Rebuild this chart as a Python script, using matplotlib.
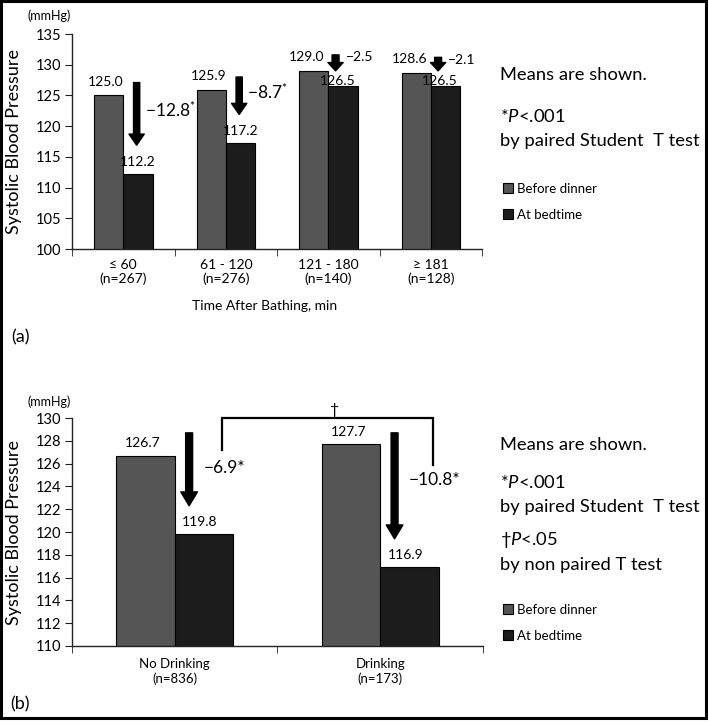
import matplotlib
matplotlib.use('Agg')
import matplotlib.pyplot as plt
import numpy as np
from matplotlib.patches import Rectangle

plt.rcParams['font.family'] = ['Lato', 'DejaVu Sans']
plt.rcParams['mathtext.fontset'] = 'custom'
plt.rcParams['mathtext.rm'] = 'Lato'
plt.rcParams['mathtext.it'] = 'Lato:italic'

# panel (a): time after bathing
groups_a = ['\u2264 60\n(n=267)', '61 - 120\n(n=276)', '121 - 180\n(n=140)', '\u2265 181\n(n=128)']
before_a = [125.0, 125.9, 129.0, 128.6]
bedtime_a = [112.2, 117.2, 126.5, 126.5]
signif_a = [True, True, False, False]

# panel (b): drinking
groups_b = ['No Drinking\n(n=836)', 'Drinking\n(n=173)']
before_b = [126.7, 127.7]
bedtime_b = [119.8, 116.9]
signif_b = [True, True]

c_before = '#555555'
c_bed = '#1c1c1c'
bw = 0.285

fig = plt.figure(figsize=(7.09, 7.22), dpi=100)
ax1 = fig.add_axes([0.1016, 0.6551, 0.5785, 0.2978])
ax2 = fig.add_axes([0.1016, 0.1053, 0.5795, 0.3157])


def style_axis(ax, labels, ymin, ymax, step, pad):
    n = len(labels)
    ax.set_xlim(-0.5, n - 0.5)
    ax.set_ylim(ymin, ymax)
    ax.set_yticks(np.arange(ymin, ymax + step / 2, step))
    for s in ['top', 'right']:
        ax.spines[s].set_visible(False)
    for s in ['left', 'bottom']:
        ax.spines[s].set_linewidth(1.0)
        ax.spines[s].set_color('#222222')
    ax.set_xticks(range(n))
    ax.set_xticklabels(labels, fontsize=10, linespacing=1.2)
    ax.set_xticks(np.arange(-0.5, n, 1), minor=True)
    ax.tick_params(axis='x', which='major', length=0, pad=pad)
    ax.tick_params(axis='x', which='minor', length=5, direction='out', color='#222222')
    ax.tick_params(axis='y', length=5, labelsize=10.5, color='#222222', pad=3)
    ax.set_ylabel('Systolic Blood Pressure', fontsize=13)
    ax.yaxis.set_label_coords(-0.122, 0.5)


def draw_arrow(ax, x, y0, y1, w, hw, hl):
    ax.annotate('', xy=(x, y1), xytext=(x, y0),
                arrowprops=dict(facecolor='black', edgecolor='black',
                                width=w, headwidth=hw, headlength=hl, shrink=0))


# ---------- (a) ----------
xa = np.arange(len(groups_a))
ax1.bar(xa - bw / 2, before_a, bw, color=c_before, edgecolor='black', lw=0.8,
        label='Before dinner')
ax1.bar(xa + bw / 2, bedtime_a, bw, color=c_bed, edgecolor='black', lw=0.8,
        label='At bedtime')
style_axis(ax1, groups_a, 100, 135, 5, 7)
ax1.set_xlabel('Time After Bathing, min', fontsize=10)
ax1.xaxis.set_label_coords(0.47, -0.235)

for i in range(len(groups_a)):
    big = signif_a[i]
    ax1.annotate('%.1f' % before_a[i], (xa[i] - bw / 2, before_a[i]),
                 xytext=((-2, 10) if big else (-5, 10)), textcoords='offset points',
                 ha='center', va='center', fontsize=10)
    ax1.annotate('%.1f' % bedtime_a[i], (xa[i] + bw / 2, bedtime_a[i]),
                 xytext=((0, 9) if big else (-4, 4)), textcoords='offset points',
                 ha='center', va='center', fontsize=10)
    d = bedtime_a[i] - before_a[i]
    if big:
        x_ar = xa[i] + 0.13
        draw_arrow(ax1, x_ar, before_a[i] + 2.1, bedtime_a[i] + 4.7, 4.5, 11, 8)
        ax1.text(x_ar + 0.08, (before_a[i] + bedtime_a[i]) / 2 + 4.0,
                 '\u2212%.1f$^{*}$' % abs(d), fontsize=12.5, ha='left', va='center')
    else:
        x_ar = xa[i] + 0.07
        draw_arrow(ax1, x_ar, before_a[i] + 2.6, bedtime_a[i] + 2.5, 5, 11, 6)
        ax1.text(x_ar + 0.1, before_a[i] + 2.2,
                 '\u2212%.1f' % abs(d), fontsize=10, ha='left', va='center')

# ---------- (b) ----------
xb = np.arange(len(groups_b))
ax2.bar(xb - bw / 2, before_b, bw, color=c_before, edgecolor='black', lw=0.8,
        label='Before dinner')
ax2.bar(xb + bw / 2, bedtime_b, bw, color=c_bed, edgecolor='black', lw=0.8,
        label='At bedtime')
style_axis(ax2, groups_b, 110, 130, 2, 9)
ax2.tick_params(axis='x', which='major', labelsize=9.5)

top_off = [2.0, 1.0]
lbl_y = [125.6, 124.6]
for i in range(len(groups_b)):
    ax2.annotate('%.1f' % before_b[i], (xb[i] - bw / 2, before_b[i]),
                 xytext=(-2, 9), textcoords='offset points',
                 ha='center', va='center', fontsize=10)
    ax2.annotate('%.1f' % bedtime_b[i], (xb[i] + bw / 2, bedtime_b[i]),
                 xytext=(-3, 9), textcoords='offset points',
                 ha='center', va='center', fontsize=10)
    d = bedtime_b[i] - before_b[i]
    x_ar = xb[i] + 0.07
    draw_arrow(ax2, x_ar, before_b[i] + top_off[i], bedtime_b[i] + 2.5, 5, 12, 10)
    ax2.text(x_ar + 0.07, lbl_y[i], '\u2212%.1f*' % abs(d), fontsize=12.5,
             ha='left', va='center')

# bracket between groups
bx = [0.23, 0.23, 1.257, 1.257]
by = [127.2, 130.0, 130.0, 125.9]
ax2.plot(bx, by, color='black', lw=1.6, clip_on=False, solid_joinstyle='miter')
ax2.text(0.775, 130.7, '\u2020', fontsize=11.5, ha='center', va='center')

# ---------- side texts ----------
tx = 0.705
fs = 13.2
fig.text(tx, 0.896, 'Means are shown.', fontsize=fs, va='center')
fig.text(tx, 0.838, '*$\\mathit{P}$<.001', fontsize=fs, va='center')
fig.text(tx, 0.805, 'by paired Student  T test', fontsize=fs, va='center')

fig.text(tx, 0.384, 'Means are shown.', fontsize=fs, va='center')
fig.text(tx, 0.332, '*$\\mathit{P}$<.001', fontsize=fs, va='center')
fig.text(tx, 0.298, 'by paired Student  T test', fontsize=fs, va='center')
fig.text(tx, 0.252, '\u2020$\\mathit{P}$<.05', fontsize=fs, va='center')
fig.text(tx, 0.217, 'by non paired T test', fontsize=fs, va='center')

for ax, yl in [(ax1, 0.756), (ax2, 0.173)]:
    h, l = ax.get_legend_handles_labels()
    fig.legend(h, l, loc='upper left', bbox_to_anchor=(0.7, yl),
               bbox_transform=fig.transFigure, frameon=False, fontsize=9.5,
               handlelength=0.75, handleheight=0.75, handletextpad=0.3,
               labelspacing=1.05, borderpad=0)

fig.text(0.07, 0.978, '(mmHg)', fontsize=9, ha='center', va='center')
fig.text(0.07, 0.443, '(mmHg)', fontsize=9, ha='center', va='center')
fig.text(0.016, 0.533, '(a)', fontsize=13, va='center')
fig.text(0.014, 0.024, '(b)', fontsize=13, va='center')

fig.patches.append(Rectangle((0.002, 0.005), 0.994, 0.993, transform=fig.transFigure,
                             fill=False, edgecolor='black', lw=2.2))

fig.savefig('out.png', dpi=100)
